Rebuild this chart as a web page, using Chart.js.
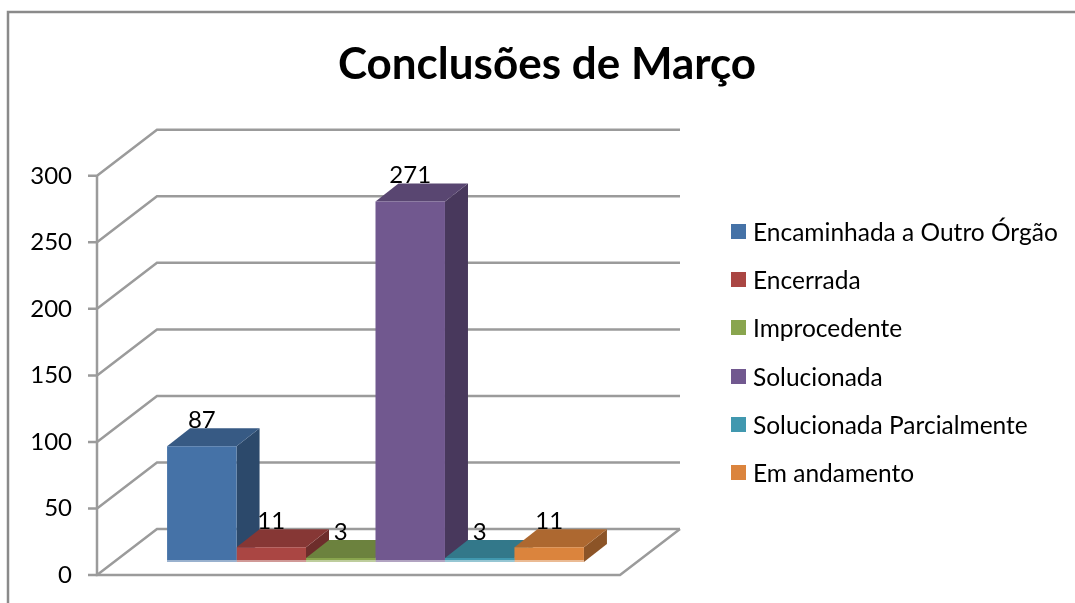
<!DOCTYPE html>
<html>
<head>
<meta charset="utf-8">
<script src="https://cdn.jsdelivr.net/npm/chart.js@4.4.0/dist/chart.umd.min.js"></script>
<style>
  html, body { margin: 0; padding: 0; background: #fff; }
  #wrap { position: relative; width: 1075px; height: 603px; overflow: hidden; }
  #legend { position: absolute; left: 731px; top: 207px; font-family: Lato, sans-serif; font-size: 24.5px; color: #000; }
  #legend .item { display: flex; align-items: center; height: 48.3px; white-space: nowrap; }
  #legend .box { width: 15px; height: 15px; margin-right: 7px; }
</style>
</head>
<body>
<div id="wrap">
  <canvas id="chart" width="1075" height="603"></canvas>
  <div id="legend"></div>
</div>
<script>
// dados
const titleText = 'Conclusões de Março';
const categories = ['Março'];
const seriesNames = ['Encaminhada a Outro Órgão', 'Encerrada', 'Improcedente', 'Solucionada', 'Solucionada Parcialmente', 'Em andamento'];
const seriesValues = [87, 11, 3, 271, 3, 11];
const yTicks = [0, 50, 100, 150, 200, 250, 300];

const colors = ['#4572A7', '#AA4643', '#89A54E', '#71588F', '#4198AF', '#DB843D'];

// deslocamentos da perspectiva 3D (relativos ao plano das barras)
const FRONT = { x: -17, y: 13 };
const BACK = { x: 43, y: -33 };
const DEPTH = { x: 23, y: -18 };

function shade(hex, f) {
  const n = parseInt(hex.slice(1), 16);
  const r = Math.round(((n >> 16) & 255) * f);
  const g = Math.round(((n >> 8) & 255) * f);
  const b = Math.round((n & 255) * f);
  return `rgb(${r},${g},${b})`;
}

const frame3d = {
  id: 'frame3d',
  beforeDraw(chart) {
    const { ctx, width, height } = chart;
    ctx.save();
    ctx.strokeStyle = '#8a8a8a';
    ctx.lineWidth = 2.5;
    ctx.beginPath();
    ctx.moveTo(8, height);
    ctx.lineTo(8, 12);
    ctx.lineTo(width, 12);
    ctx.stroke();
    ctx.restore();
  },
  beforeDatasetsDraw(chart) {
    const { ctx, chartArea: { left, right } } = chart;
    const yScale = chart.scales.y;
    ctx.save();
    ctx.strokeStyle = '#9b9b9b';
    ctx.lineWidth = 2.5;
    ctx.lineJoin = 'miter';
    // linhas de grade: marca, parede lateral, parede do fundo
    yTicks.forEach(v => {
      const py = yScale.getPixelForValue(v);
      ctx.beginPath();
      ctx.moveTo(left + FRONT.x - 9, py + FRONT.y);
      ctx.lineTo(left + FRONT.x, py + FRONT.y);
      ctx.lineTo(left + BACK.x, py + BACK.y);
      ctx.lineTo(right + BACK.x, py + BACK.y);
      ctx.stroke();
    });
    // eixo frontal e piso
    const y0 = yScale.getPixelForValue(yTicks[0]);
    const yMax = yScale.getPixelForValue(yTicks[yTicks.length - 1]);
    ctx.beginPath();
    ctx.moveTo(left + FRONT.x, yMax + FRONT.y);
    ctx.lineTo(left + FRONT.x, y0 + FRONT.y);
    ctx.lineTo(right + FRONT.x, y0 + FRONT.y);
    ctx.lineTo(right + BACK.x, y0 + BACK.y);
    ctx.stroke();

    // lados e topos das barras (a frente é desenhada pelo Chart.js por cima)
    chart.data.datasets.forEach((ds, i) => {
      const bar = chart.getDatasetMeta(i).data[0];
      const { x, y, base, width } = bar.getProps(['x', 'y', 'base', 'width'], true);
      const l = x - width / 2, r = x + width / 2;
      ctx.fillStyle = shade(colors[i], 0.64);
      ctx.beginPath();
      ctx.moveTo(r, y);
      ctx.lineTo(r + DEPTH.x, y + DEPTH.y);
      ctx.lineTo(r + DEPTH.x, base + DEPTH.y);
      ctx.lineTo(r, base);
      ctx.closePath();
      ctx.fill();
      ctx.fillStyle = shade(colors[i], 0.79);
      ctx.beginPath();
      ctx.moveTo(l, y);
      ctx.lineTo(l + DEPTH.x, y + DEPTH.y);
      ctx.lineTo(r + DEPTH.x, y + DEPTH.y);
      ctx.lineTo(r, y);
      ctx.closePath();
      ctx.fill();
    });
    ctx.restore();
  },
  afterDatasetsDraw(chart) {
    const { ctx } = chart;
    ctx.save();
    ctx.font = '24px Lato';
    ctx.textAlign = 'center';
    ctx.textBaseline = 'middle';
    chart.data.datasets.forEach((ds, i) => {
      const bar = chart.getDatasetMeta(i).data[0];
      const { x, y, base, width } = bar.getProps(['x', 'y', 'base', 'width'], true);
      // reflexo claro na base
      ctx.fillStyle = 'rgba(255,255,255,0.45)';
      ctx.fillRect(x - width / 2, base - 2, width, 2);
      ctx.fillStyle = '#000';
      ctx.fillText(String(ds.data[0]), x, y - 26);
    });
    ctx.restore();
  }
};

const PAD_L = 19, PAD_R = 0;

const chart = new Chart(document.getElementById('chart'), {
  type: 'bar',
  data: {
    labels: categories,
    datasets: seriesNames.map((name, i) => ({
      label: name,
      data: [seriesValues[i]],
      backgroundColor: colors[i],
      borderWidth: 0,
      categoryPercentage: 0.797,
      barPercentage: 1
    }))
  },
  options: {
    responsive: false,
    animation: false,
    devicePixelRatio: 1,
    layout: { padding: { left: PAD_L, right: PAD_R, top: 0, bottom: 41 } },
    plugins: {
      title: {
        display: true,
        text: titleText,
        color: '#000',
        font: { family: 'Lato', size: 44, weight: 'bold' },
        padding: { top: 38, bottom: 72 }
      },
      legend: { display: false },
      tooltip: { enabled: false }
    },
    scales: {
      x: { display: false },
      y: {
        min: 0,
        max: 300,
        afterFit(scale) { scale.width = 114 - PAD_L; },
        // a marca fica invisível; o comprimento só afasta os rótulos do plano das barras
        grid: { display: false, drawTicks: true, tickLength: 38 },
        border: { display: false },
        ticks: {
          stepSize: 50,
          padding: 4,
          labelOffset: 13,
          color: '#000',
          font: { family: 'Lato', size: 24 }
        }
      },
      y2: {
        position: 'right',
        afterFit(scale) { scale.width = 1075 - PAD_R - 637; },
        grid: { display: false, drawTicks: false },
        border: { display: false },
        ticks: { display: false }
      }
    }
  },
  plugins: [frame3d]
});

// legenda em HTML
const legendEl = document.getElementById('legend');
chart.data.datasets.forEach(ds => {
  const item = document.createElement('div');
  item.className = 'item';
  const box = document.createElement('span');
  box.className = 'box';
  box.style.background = ds.backgroundColor;
  const label = document.createElement('span');
  label.textContent = ds.label;
  item.appendChild(box);
  item.appendChild(label);
  legendEl.appendChild(item);
});
</script>
</body>
</html>
